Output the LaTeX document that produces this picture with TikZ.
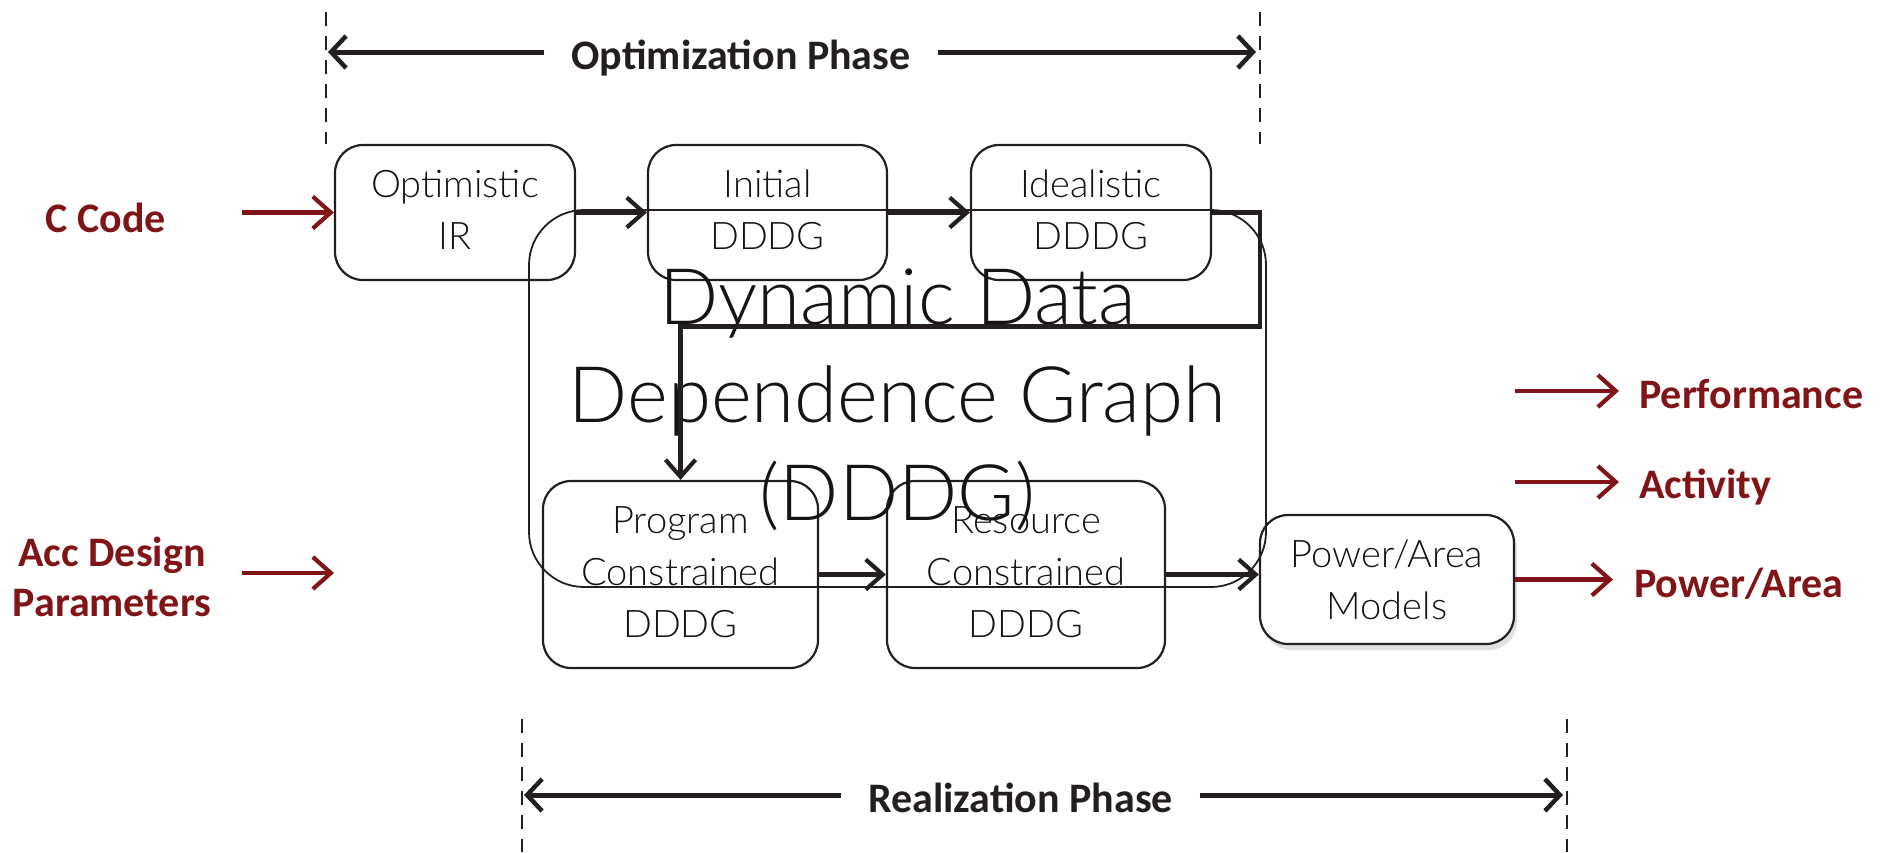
\documentclass[tikz,border=0pt]{standalone}
\usepackage{fontspec}
\setmainfont{Carlito}
\newfontfamily\lightfont{Lato Light}
\usetikzlibrary{arrows.meta,shadows}
\definecolor{ink}{HTML}{231F20}
\definecolor{boxtext}{HTML}{141414}
\definecolor{darkred}{RGB}{128,20,22}
\begin{document}
\begin{tikzpicture}[x=1pt,y=-1pt,
  box/.style={draw=ink, line width=2.2pt, rounded corners=28pt, align=center,
    text=boxtext, inner sep=0pt, font=\lightfont\fontsize{38}{52}\selectfont},
  bigbox/.style={draw=ink, line width=1.8pt, rounded corners=55pt, inner sep=0pt},
  bigtext/.style={align=center, text=boxtext, inner sep=0pt,
    font=\lightfont\fontsize{78}{98}\selectfont},
  conn/.style={draw=ink, line width=4.5pt, -{Straight Barb[length=17pt,width=30pt,line width=4.2pt]}},
  redarrow/.style={draw=darkred, line width=4.5pt, -{Straight Barb[length=18pt,width=32pt,line width=4.2pt]}},
  redlabel/.style={text=darkred, align=center, inner sep=0pt,
    font=\fontsize{42}{50}\selectfont\bfseries},
  phase/.style={draw=ink, line width=5pt, -{Straight Barb[length=15pt,width=32pt,line width=4.5pt]}},
  phaselabel/.style={text=ink, inner ysep=0pt, inner xsep=27pt,
    font=\fontsize{42}{50}\selectfont\bfseries},
  guide/.style={draw=ink, line width=1.8pt, dash pattern=on 14pt off 10pt}]

\useasboundingbox (0,0) rectangle (1885,852);

% Optimization phase span
\coordinate (g1t) at (326,12);  \coordinate (g1b) at (326,144);
\coordinate (g2t) at (1260,12); \coordinate (g2b) at (1260,144);
\draw[guide] (g1t) -- (g1b);
\draw[guide] (g2t) -- (g2b);
\node[phaselabel] (optlbl) at (741,58) {Optimization Phase};
\coordinate (oL) at (328,52);
\coordinate (oR) at (1256,52);
\draw[phase] (optlbl.west |- oL) -- (oL);
\draw[phase] (optlbl.east |- oR) -- (oR);

% Realization phase span
\coordinate (g3t) at (522,719);  \coordinate (g3b) at (522,852);
\coordinate (g4t) at (1567,719); \coordinate (g4b) at (1567,852);
\draw[guide] (g3t) -- (g3b);
\draw[guide] (g4t) -- (g4b);
\node[phaselabel] (reallbl) at (1020.5,798) {Realization Phase};
\coordinate (rL) at (524,795);
\coordinate (rR) at (1563,795);
\draw[phase] (reallbl.west |- rL) -- (rL);
\draw[phase] (reallbl.east |- rR) -- (rR);

% Power/area model box
\node[box, fill=white, minimum width=254pt, minimum height=129pt,
  drop shadow={shadow xshift=3pt, shadow yshift=-6pt, opacity=0.12, fill=black}]
  (pwr) at (1387,579.5) {Power/Area\\Models};

% Stage boxes
\node[box, minimum width=240pt, minimum height=135pt] (optir) at (455,212.5) {Optimistic\\IR\rule[-6pt]{0pt}{1pt}};
\node[box, minimum width=239pt, minimum height=135pt] (init) at (767.5,212.5) {Initial\\DDDG\rule[-6pt]{0pt}{1pt}};
\node[box, minimum width=240pt, minimum height=135pt] (ideal) at (1091,212.5) {Idealistic\\DDDG\rule[-6pt]{0pt}{1pt}};
\node[box, minimum width=275pt, minimum height=187pt] (prog) at (680.5,574.5) {Program\\Constrained\\DDDG\rule[-4pt]{0pt}{1pt}};
\node[box, minimum width=278pt, minimum height=187pt] (res) at (1026,574.5) {Resource\\Constrained\\DDDG\rule[-4pt]{0pt}{1pt}};

% Enclosing DDDG frame and its title
\node[bigbox, minimum width=737pt, minimum height=377pt] (dddg) at (897.5,398.5) {};
\node[bigtext] (dddgtxt) at (897.5,400) {Dynamic Data\\Dependence Graph\\(DDDG)};

% Flow between stages
\draw[conn] (optir.east) -- (init.west);
\draw[conn] (init.east) -- (ideal.west);
\draw[conn] (ideal.east) -- ++(48,0) -- ++(0,114) -| (prog.north);
\draw[conn] (prog.east) -- (res.west);
\draw[conn] (res.east) -- (res.east -| pwr.west);

% Inputs
\node[redlabel] (ccode) at (106,218) {C Code};
\node[redlabel] (accp) at (112,577) {Acc Design\\Parameters};
\coordinate (ccA) at (242,212.5);
\draw[redarrow] (ccA) -- (optir.west);
\coordinate (accA) at (242,573);
\coordinate (accB) at (334,573);
\draw[redarrow] (accA) -- (accB);

% Outputs
\node[redlabel, anchor=west] (perf) at (1639,394) {Performance};
\node[redlabel, anchor=west] (act) at (1639,487) {Activity};
\node[redlabel, anchor=west] (pwrout) at (1634,584) {Power/Area};
\coordinate (perfA) at (1515,391); \coordinate (perfB) at (1619,391);
\coordinate (actA) at (1515,482);  \coordinate (actB) at (1619,482);
\coordinate (pwrB) at (1613,579.5);
\draw[redarrow] (perfA) -- (perfB);
\draw[redarrow] (actA) -- (actB);
\draw[redarrow] (pwr.east) -- (pwrB);

\end{tikzpicture}
\end{document}
